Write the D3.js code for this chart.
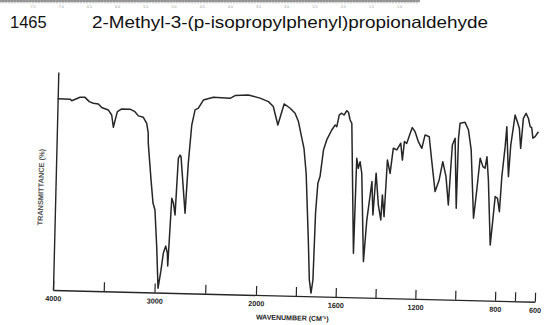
<!DOCTYPE html>
<html><head><meta charset="utf-8">
<script src="https://cdn.jsdelivr.net/npm/d3@7"></script>
<style>
html,body{margin:0;padding:0;background:#fff;}
svg{display:block;}
</style></head>
<body>
<svg id="chart" width="551" height="325"></svg>
<script>
const chartId = "1465";
const title = "2-Methyl-3-(p-isopropylphenyl)propionaldehyde";
const xTitle = "WAVENUMBER (CM\u207B\u00B9)";
const yTitle = "TRANSMITTANCE (%)";
const tickValues = [4000, 3500, 3000, 2500, 2000, 1800, 1600, 1400, 1200, 1000, 800, 700, 600];
const tickLabels = [4000, 3000, 2000, 1600, 1200, 800, 600];
const micronLabels = ["7.5","7.0","6.5","6.0","5.5","5.0","4.5","4.0","3.5","3.0","2.5","2.0","1.5","1.0"];

const wavenumber = [4000,3878,3861,3780,3731,3688,3648,3598,3564,3499,3464,3445,3409,3366,3285,3236,3201,3152,3117,3100,3097,3061,3036,3015,2989,2966,2943,2922,2900,2883,2876,2862,2852,2835,2816,2797,2781,2771,2718,2698,2673,2644,2612,2565,2467,2302,2253,2123,2007,1961,1936,1911,1882,1851,1826,1808,1789,1777,1763,1744,1734,1724,1716,1711,1703,1693,1679,1664,1640,1624,1615,1604,1592,1580,1567,1558,1549,1540,1516,1511,1502,1494,1484,1465,1453,1432,1423,1412,1397,1383,1378,1367,1357,1342,1329,1311,1292,1282,1274,1262,1246,1236,1222,1204,1186,1171,1150,1134,1114,1095,1079,1061,1046,1038,1033,1020,1006,1003,997,972,954,938,918,905,892,877,866,858,848,831,821,812,800,789,781,768,762,748,740,722,710,699,690,680,667,655,645,637,630,619,603];
const transmittance = [87.7,87.7,87.0,88.7,88.7,86.8,86.1,85.8,84.2,83.2,80.9,75.3,82.5,83.8,83.8,82.7,80.8,80.2,77.5,73.1,68.4,51.6,41.0,37.8,21.0,2.0,9.6,18.2,21.4,18.3,12.3,30.4,43.4,41.3,35.8,61.8,63.3,62.6,36.7,59.6,77.2,84.2,85.0,88.8,90.2,89.9,91.2,91.6,90.3,88.8,86.6,78.2,87.9,86.0,83.8,80.0,72.4,67.8,56.4,25.8,7.5,1.5,7.5,38.3,51.9,55.0,67.2,71.9,76.5,78.8,78.1,83.5,84.3,83.5,85.5,84.8,81.3,79.8,20.2,63.8,59.2,62.3,57.0,16.5,35.6,53.3,38.0,57.2,42.6,35.8,47.3,37.3,63.4,57.3,68.8,68.1,71.2,63.5,72.0,71.2,75.9,78.5,76.7,72.1,69.1,75.3,74.5,63.1,49.4,54.8,63.2,56.4,43.4,61.0,71.0,74.1,42.0,74.1,81.0,81.5,78.0,68.9,37.6,50.6,65.2,61.4,60.7,66.0,55.3,25.5,37.0,47.8,47.0,40.9,57.0,70.8,80.0,57.1,71.6,85.4,82.4,79.4,70.2,84.0,86.3,84.1,80.3,79.8,75.0,75.7,78.0];

const svg = d3.select("#chart");
const ink = "#262626";
const font = "Liberation Sans, Arial, sans-serif";

// top micron ruler strip (scan remnant)
const ruler = svg.append("g");
ruler.append("rect").attr("x", 0).attr("y", 0).attr("width", 420).attr("height", 2.2).attr("fill", "#9a9a9a");
ruler.selectAll("line.m").data(d3.range(0, 420, 3)).join("line")
  .attr("x1", d => d).attr("x2", d => d).attr("y1", 0).attr("y2", 3.5)
  .attr("stroke", "#8a8a8a").attr("stroke-width", 0.6);
ruler.selectAll("text").data(micronLabels).join("text")
  .attr("x", (d, i) => 33 + i * 28.2).attr("y", 8)
  .attr("text-anchor", "middle").attr("font-family", font)
  .attr("font-size", 3.6).attr("fill", "#999").text(d => d);

// header text
svg.append("text").attr("x", 10).attr("y", 28)
  .attr("font-family", font).attr("font-size", 16.5)
  .attr("fill", "#111").text(chartId);
svg.append("text").attr("x", 92).attr("y", 28)
  .attr("font-family", font).attr("font-size", 16.5)
  .attr("fill", "#111").attr("textLength", 396).attr("lengthAdjust", "spacingAndGlyphs").text(title);

// plot frame (scanned page is slightly rotated)
const W = 482, H = 218;
const x = d3.scaleLinear().domain([4000, 2000, 600]).range([0, 203, W]);
const y = d3.scaleLinear().domain([0, 100]).range([0, -H]);

const g = svg.append("g").attr("transform", "translate(53,290) rotate(1.4)");

const xAxis = d3.axisBottom(x).tickValues(tickValues).tickSizeInner(-9).tickSizeOuter(0)
  .tickFormat(d => tickLabels.includes(d) ? d : "");
const xa = g.append("g").call(xAxis);
xa.select(".domain").attr("stroke", ink).attr("stroke-width", 1.4);
xa.selectAll(".tick line").attr("stroke", ink).attr("stroke-width", 1.2);
xa.selectAll(".tick text").attr("y", 6).attr("dy", "0.71em")
  .attr("font-family", font).attr("font-size", 7.2)
  .attr("font-weight", "bold").attr("fill", "#222");

const yAxis = d3.axisLeft(y).tickValues([]).tickSizeOuter(0);
const ya = g.append("g").call(yAxis);
ya.select(".domain").attr("stroke", ink).attr("stroke-width", 1.4);

g.append("text").attr("x", x(1815)).attr("y", 24.5)
  .attr("text-anchor", "middle").attr("font-family", font)
  .attr("font-size", 7).attr("font-weight", "bold").attr("fill", "#222").text(xTitle);

g.append("text").attr("transform", `translate(-12,${y(47)}) rotate(-90)`)
  .attr("text-anchor", "middle").attr("font-family", font)
  .attr("font-size", 7.4).attr("font-weight", "bold").attr("fill", "#555").text(yTitle);

const pts = wavenumber.map((w, i) => [w, transmittance[i]]);
g.append("path").datum(pts)
  .attr("fill", "none").attr("stroke", ink).attr("stroke-width", 1.5)
  .attr("stroke-linejoin", "round")
  .attr("d", d3.line().x(d => x(d[0])).y(d => y(d[1])));
</script>
</body></html>
